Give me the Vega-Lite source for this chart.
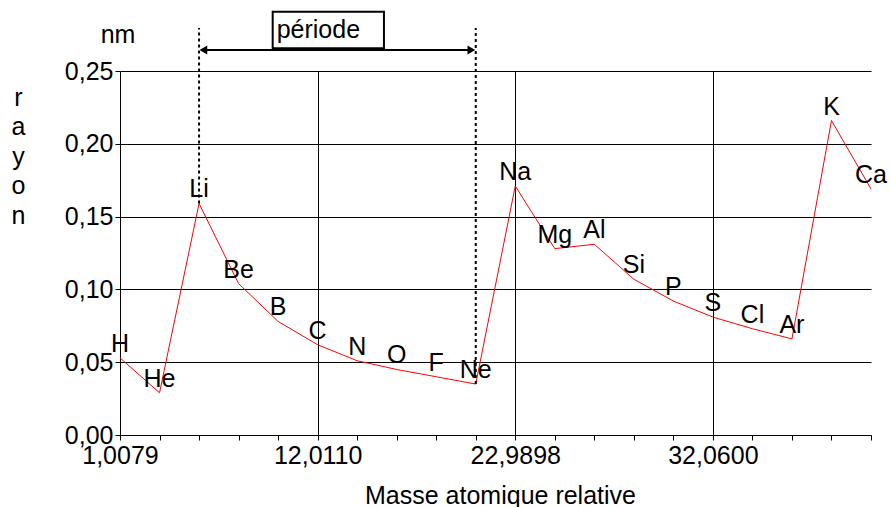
{
  "$schema": "https://vega.github.io/schema/vega-lite/v6.json",
  "autosize": {"type": "none"},
  "padding": {"left": 120, "top": 71, "right": 19, "bottom": 72},
  "width": 751,
  "height": 364,
  "background": "white",
  "config": {
    "view": {"stroke": null},
    "font": "Liberation Sans",
    "text": {"font": "Liberation Sans", "fontSize": 25, "color": "black"},
    "axis": {
      "labelFont": "Liberation Sans",
      "titleFont": "Liberation Sans",
      "labelFontSize": 25,
      "titleFontSize": 25,
      "titleFontWeight": "normal",
      "labelColor": "black",
      "titleColor": "black",
      "domainColor": "black",
      "tickColor": "black",
      "gridColor": "black",
      "tickSize": 5
    }
  },
  "data": {
    "values": [
      {"el": "H", "Z": 1, "rayon": 0.053},
      {"el": "He", "Z": 2, "rayon": 0.029},
      {"el": "Li", "Z": 3, "rayon": 0.159},
      {"el": "Be", "Z": 4, "rayon": 0.104},
      {"el": "B", "Z": 5, "rayon": 0.078},
      {"el": "C", "Z": 6, "rayon": 0.062},
      {"el": "N", "Z": 7, "rayon": 0.051},
      {"el": "O", "Z": 8, "rayon": 0.045},
      {"el": "F", "Z": 9, "rayon": 0.040},
      {"el": "Ne", "Z": 10, "rayon": 0.035},
      {"el": "Na", "Z": 11, "rayon": 0.171},
      {"el": "Mg", "Z": 12, "rayon": 0.128},
      {"el": "Al", "Z": 13, "rayon": 0.131},
      {"el": "Si", "Z": 14, "rayon": 0.107},
      {"el": "P", "Z": 15, "rayon": 0.092},
      {"el": "S", "Z": 16, "rayon": 0.081},
      {"el": "Cl", "Z": 17, "rayon": 0.073},
      {"el": "Ar", "Z": 18, "rayon": 0.066},
      {"el": "K", "Z": 19, "rayon": 0.216},
      {"el": "Ca", "Z": 20, "rayon": 0.169}
    ]
  },
  "layer": [
    {
      "mark": {"type": "line", "color": "#ff0000", "strokeWidth": 1},
      "encoding": {
        "x": {
          "field": "Z", "type": "quantitative",
          "scale": {"domain": [1, 20], "nice": false, "zero": false},
          "axis": {
            "values": [1,2,3,4,5,6,7,8,9,10,11,12,13,14,15,16,17,18,19,20],
            "tickCount": 40,
            "labelExpr": "datum.value == 1 ? '1,0079' : datum.value == 6 ? '12,0110' : datum.value == 11 ? '22,9898' : datum.value == 16 ? '32,0600' : ''",
            "labelOverlap": false,
            "labelFlush": false,
            "labelPadding": 3,
            "grid": true,
            "gridOpacity": {"condition": {"test": "datum.value == 6 || datum.value == 11 || datum.value == 16", "value": 1}, "value": 0},
            "title": "Masse atomique relative",
            "titleX": 380,
            "titleY": 68,
            "titleBaseline": "alphabetic",
            "titleAlign": "center"
          }
        },
        "y": {
          "field": "rayon", "type": "quantitative",
          "scale": {"domain": [0, 0.25], "nice": false},
          "axis": {
            "values": [0, 0.05, 0.1, 0.15, 0.2, 0.25],
            "tickCount": 12,
            "labelExpr": "replace(format(datum.value, '.2f'), '.', ',')",
            "labelPadding": 2,
            "grid": true,
            "title": ["r", "a", "y", "o", "n"],
            "titleAngle": 0,
            "titleX": -102,
            "titleY": 34,
            "titleAlign": "center",
            "titleBaseline": "alphabetic",
            "titleLineHeight": 29.5
          }
        }
      }
    },
    {
      "mark": {"type": "text", "baseline": "alphabetic", "align": "center", "dy": -6},
      "encoding": {
        "x": {"field": "Z", "type": "quantitative"},
        "y": {"field": "rayon", "type": "quantitative"},
        "text": {"field": "el"}
      }
    },
    {
      "transform": [{"filter": "datum.el == 'Li' || datum.el == 'Ne'"}],
      "mark": {"type": "rule", "color": "black", "strokeWidth": 2, "strokeDash": [3, 3]},
      "encoding": {
        "x": {"field": "Z", "type": "quantitative"},
        "y": {"field": "rayon", "type": "quantitative"},
        "y2": {"datum": 0.2795}
      }
    },
    {
      "data": {"values": [{}]},
      "mark": {"type": "rule", "color": "black", "strokeWidth": 2},
      "encoding": {
        "x": {"datum": 3.1},
        "x2": {"datum": 9.9},
        "y": {"datum": 0.2644}
      }
    },
    {
      "data": {"values": [{}]},
      "mark": {"type": "point", "shape": "triangle-left", "filled": true, "color": "black", "opacity": 1, "size": 80},
      "encoding": {
        "x": {"datum": 3.11},
        "y": {"datum": 0.2644}
      }
    },
    {
      "data": {"values": [{}]},
      "mark": {"type": "point", "shape": "triangle-right", "filled": true, "color": "black", "opacity": 1, "size": 80},
      "encoding": {
        "x": {"datum": 9.89},
        "y": {"datum": 0.2644}
      }
    },
    {
      "data": {"values": [{}]},
      "mark": {"type": "rect", "fill": "white", "stroke": "black", "strokeWidth": 2},
      "encoding": {
        "x": {"datum": 4.863},
        "x2": {"datum": 7.678},
        "y": {"datum": 0.2656},
        "y2": {"datum": 0.2907}
      }
    },
    {
      "data": {"values": [{"t": "période"}]},
      "mark": {"type": "text", "align": "left", "baseline": "alphabetic"},
      "encoding": {
        "x": {"datum": 4.964},
        "y": {"datum": 0.2729},
        "text": {"field": "t"}
      }
    },
    {
      "data": {"values": [{"t": "nm"}]},
      "mark": {"type": "text", "align": "center", "baseline": "alphabetic", "dx": -2},
      "encoding": {
        "x": {"datum": 1},
        "y": {"datum": 0.2689},
        "text": {"field": "t"}
      }
    }
  ]
}
